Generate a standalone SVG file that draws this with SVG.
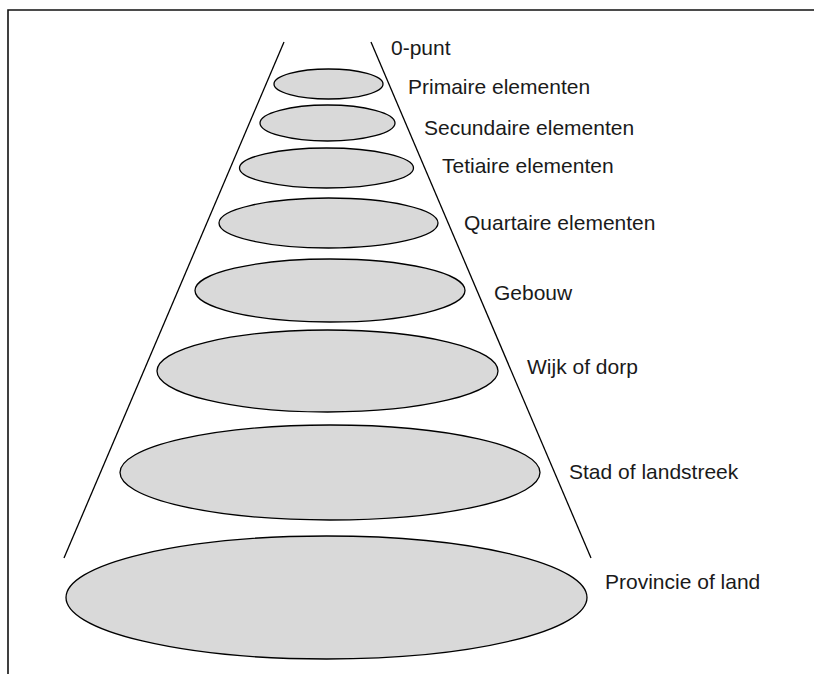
<svg xmlns="http://www.w3.org/2000/svg" width="814" height="674" viewBox="0 0 814 674">
<style>
.lvl{fill:#d9d9d9;stroke:#000;stroke-width:1.3}
.lbl{font-family:"Liberation Sans",Arial,sans-serif;font-size:21px;fill:#1a1a1a}
.cone{stroke:#000;stroke-width:1.3;fill:none}
</style>
<rect width="814" height="674" fill="#fff"/>
<g id="frame">
<path d="M8,674 V10 H814" fill="none" stroke="#111" stroke-width="1.6"/>
</g>
<g id="connectors">
<line class="cone" x1="284" y1="42" x2="64" y2="558"/>
<line class="cone" x1="371" y1="42" x2="591" y2="558"/>
</g>
<g id="n0"><text class="lbl" x="391" y="55">0-punt</text></g>
<g id="n1"><ellipse class="lvl" cx="328.5" cy="84" rx="54.5" ry="15"/><text class="lbl" x="408" y="94">Primaire elementen</text></g>
<g id="n2"><ellipse class="lvl" cx="327.5" cy="123" rx="67.5" ry="18"/><text class="lbl" x="424" y="135">Secundaire elementen</text></g>
<g id="n3"><ellipse class="lvl" cx="326.5" cy="168" rx="87" ry="20"/><text class="lbl" x="442" y="173">Tetiaire elementen</text></g>
<g id="n4"><ellipse class="lvl" cx="328.5" cy="223" rx="109.5" ry="25"/><text class="lbl" x="464" y="230">Quartaire elementen</text></g>
<g id="n5"><ellipse class="lvl" cx="330" cy="290.5" rx="135" ry="31.5"/><text class="lbl" x="494" y="300">Gebouw</text></g>
<g id="n6"><ellipse class="lvl" cx="327.5" cy="371" rx="170.5" ry="41"/><text class="lbl" x="527" y="374">Wijk of dorp</text></g>
<g id="n7"><ellipse class="lvl" cx="330" cy="472.5" rx="210" ry="47.5"/><text class="lbl" x="569" y="479">Stad of landstreek</text></g>
<g id="n8"><ellipse class="lvl" cx="326.5" cy="597.5" rx="260.5" ry="61.5"/><text class="lbl" x="605" y="589">Provincie of land</text></g>
</svg>
